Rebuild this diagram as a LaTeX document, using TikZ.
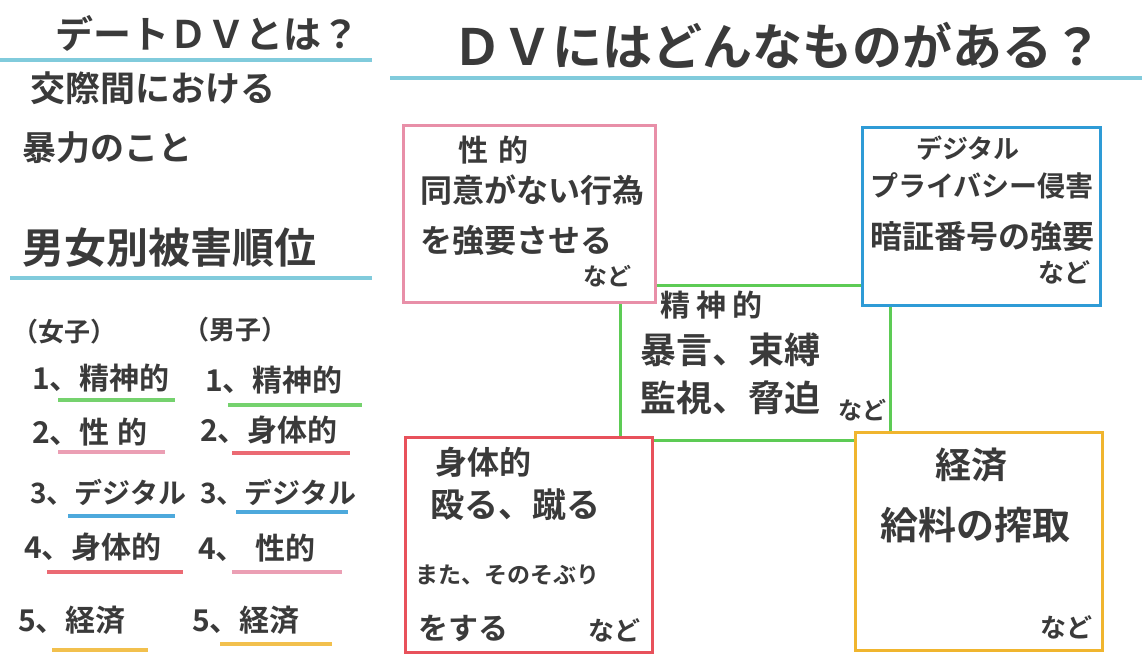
\documentclass[tikz,border=0pt]{standalone}
\usepackage{fontspec}
\newfontfamily\jp{Noto Sans CJK JP}[BoldFont={Noto Sans CJK JP Bold}]
\definecolor{ink}{HTML}{3A3A3A}
\definecolor{pinkc}{HTML}{E88FA8}
\definecolor{bluec}{HTML}{2E9BD6}
\definecolor{greenc}{HTML}{5DCB55}
\definecolor{redc}{HTML}{E8515B}
\definecolor{orangec}{HTML}{F0B52E}
\definecolor{cyanc}{HTML}{6BC3D6}
\tikzset{
  txt/.style={font=\jp\bfseries\fontsize{#1}{#1}\selectfont, text=ink, anchor=west, inner sep=0pt},
  catbox/.style={draw=#1, line width=3pt, fill=white, inner sep=0pt},
  uline/.style={draw=#1, line width=3.5pt, opacity=0.85},
}
\begin{document}
\begin{tikzpicture}[x=1pt,y=-1pt]
\useasboundingbox[fill=white] (0,0) rectangle (1142,665);
% left column
\node[txt=38] (t1) at (55,33) {デートＤＶとは？};
\coordinate (u1a) at (0,60); \coordinate (u1b) at (372,60);
\draw[uline=cyanc] (u1a) -- (u1b);
\node[txt=35] (d1) at (30,88) {交際間における};
\node[txt=34] (d2) at (22,148) {暴力のこと};
\node[txt=42] (t2) at (22,248) {男女別被害順位};
\coordinate (u2a) at (10,278); \coordinate (u2b) at (372,278);
\draw[uline=cyanc] (u2a) -- (u2b);
\node[txt=26] (fh) at (12,332) {（女子）};
\node[txt=26] (mh) at (183,330) {（男子）};
% female ranking
\node[txt=30] (f1) at (32,378) {1、精神的};
\node[txt=30] (f2) at (32,432) {2、性\hspace{8pt}的};
\node[txt=28] (f3) at (30,492) {3、デジタル};
\node[txt=30] (f4) at (24,547) {4、身体的};
\node[txt=30] (f5) at (18,620) {5、経済};
\coordinate (fa1) at (58,400); \coordinate (fb1) at (175,400);
\coordinate (fa2) at (58,452); \coordinate (fb2) at (165,452);
\coordinate (fa3) at (68,516); \coordinate (fb3) at (175,516);
\coordinate (fa4) at (47,572); \coordinate (fb4) at (183,572);
\coordinate (fa5) at (52,650); \coordinate (fb5) at (148,650);
\draw[uline=greenc] (fa1) -- (fb1);
\draw[uline=pinkc] (fa2) -- (fb2);
\draw[uline=bluec] (fa3) -- (fb3);
\draw[uline=redc] (fa4) -- (fb4);
\draw[uline=orangec] (fa5) -- (fb5);
% male ranking
\node[txt=30] (m1) at (205,380) {1、精神的};
\node[txt=30] (m2) at (200,430) {2、身体的};
\node[txt=28] (m3) at (200,492) {3、デジタル};
\node[txt=30] (m4) at (198,548) {4、\hspace{10pt}性的};
\node[txt=30] (m5) at (192,620) {5、経済};
\coordinate (ma1) at (228,405); \coordinate (mb1) at (362,405);
\coordinate (ma2) at (232,453); \coordinate (mb2) at (350,453);
\coordinate (ma3) at (236,512); \coordinate (mb3) at (348,512);
\coordinate (ma4) at (232,572); \coordinate (mb4) at (342,572);
\coordinate (ma5) at (220,644); \coordinate (mb5) at (332,644);
\draw[uline=greenc] (ma1) -- (mb1);
\draw[uline=redc] (ma2) -- (mb2);
\draw[uline=bluec] (ma3) -- (mb3);
\draw[uline=pinkc] (ma4) -- (mb4);
\draw[uline=orangec] (ma5) -- (mb5);
% right title
\node[txt=50] (t3) at (452,45) {ＤＶにはどんなものがある？};
\coordinate (u3a) at (390,78); \coordinate (u3b) at (1142,78);
\draw[uline=cyanc] (u3a) -- (u3b);
% green box behind
\node[catbox=greenc, minimum width=270pt, minimum height=155pt] (mental) at (755,362.5) {};
% other boxes
\node[catbox=pinkc, minimum width=252pt, minimum height=177pt] (sexual) at (529,213.5) {};
\node[catbox=bluec, minimum width=238pt, minimum height=178pt] (digital) at (981,216) {};
\node[catbox=redc, minimum width=247pt, minimum height=215pt] (physical) at (528.5,544.5) {};
\node[catbox=orangec, minimum width=247pt, minimum height=218pt] (economic) at (978.5,541) {};
% sexual texts
\node[txt=30] (s1) at (458,150) {性\hspace{10pt}的};
\node[txt=32] (s2) at (420,190) {同意がない行為};
\node[txt=32] (s3) at (420,240) {を強要させる};
\node[txt=24] (s4) at (583,276) {など};
% digital texts
\node[txt=26] (g1) at (916,148) {デジタル};
\node[txt=28] (g2) at (870,186) {プライバシー侵害};
\node[txt=32] (g3) at (870,236) {暗証番号の強要};
\node[txt=26] (g4) at (1038,272) {など};
% mental texts
\node[txt=30] (e1) at (660,305) {精\hspace{6pt}神\hspace{6pt}的};
\node[txt=36] (e2) at (640,350) {暴言、束縛};
\node[txt=36] (e3) at (640,398) {監視、脅迫};
\node[txt=24] (e4) at (838,410) {など};
% physical texts
\node[txt=32] (p1) at (435,462) {身体的};
\node[txt=34] (p2) at (430,505) {殴る、蹴る};
\node[txt=23] (p3) at (415,575) {また、そのそぶり};
\node[txt=30] (p4) at (418,628) {をする};
\node[txt=26] (p5) at (588,630) {など};
% economic texts
\node[txt=36] (c1) at (935,465) {経済};
\node[txt=38] (c2) at (880,525) {給料の搾取};
\node[txt=26] (c3) at (1040,627) {など};
\end{tikzpicture}
\end{document}
